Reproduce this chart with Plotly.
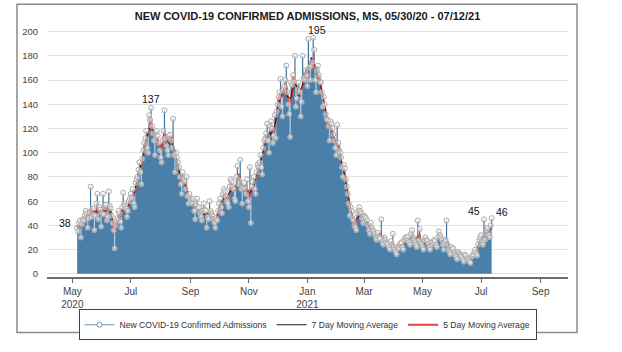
import pandas as pd
import plotly.graph_objects as go

# ---------------- data ----------------
start_date = "2020-05-06"
daily = [
    38, 35, 42, 44, 30, 41, 45,        # May 6
    44, 48, 52, 50, 38, 46, 51,        # May 13
    72, 47, 54, 49, 36, 48, 58,        # May 20
    66, 45, 55, 53, 39, 50, 66,        # May 27
    49, 55, 57, 44, 47, 68, 56,        # Jun 3
    54, 48, 42, 36, 21, 40, 44,        # Jun 10
    46, 52, 50, 43, 38, 55, 67,        # Jun 17
    58, 56, 54, 47, 52, 60, 62,        # Jun 24
    66, 63, 70, 58, 55, 75, 78,        # Jul 1
    80, 86, 92, 84, 74, 95, 102,       # Jul 8
    108, 112, 118, 104, 100, 131, 127, # Jul 15
    137, 122, 116, 110, 98, 113, 118,  # Jul 22
    114, 108, 102, 96, 92, 110, 118,   # Jul 29
    135, 112, 106, 102, 98, 114, 115,  # Aug 5
    110, 104, 128, 98, 84, 100, 96,    # Aug 12
    92, 88, 80, 74, 66, 84, 78,        # Aug 19
    76, 70, 80, 64, 58, 66, 62,        # Aug 26
    60, 58, 62, 52, 45, 56, 62,        # Sep 2
    54, 55, 50, 47, 44, 52, 58,        # Sep 9
    53, 52, 38, 47, 45, 60, 52,        # Sep 16
    50, 48, 45, 42, 38, 46, 44,        # Sep 23
    52, 58, 62, 55, 50, 66, 70,        # Sep 30
    68, 64, 60, 58, 55, 72, 78,        # Oct 7
    76, 72, 70, 62, 60, 80, 89,        # Oct 14
    74, 77, 94, 70, 58, 72, 75,        # Oct 21
    70, 66, 78, 60, 55, 88, 42,        # Oct 28
    72, 76, 80, 70, 66, 84, 90,        # Nov 4
    88, 92, 98, 88, 82, 104, 110,      # Nov 11
    112, 116, 124, 110, 100, 122, 126, # Nov 18
    120, 108, 114, 131, 112, 134, 140, # Nov 25
    146, 150, 161, 138, 130, 152, 155, # Dec 2
    160, 172, 150, 140, 132, 113, 158, # Dec 9
    156, 164, 159, 180, 138, 145, 152, # Dec 16
    158, 150, 130, 142, 180, 162, 160, # Dec 23
    168, 164, 155, 194, 170, 160, 172, # Dec 30
    175, 195, 185, 160, 150, 168, 172, # Jan 6
    164, 159, 158, 150, 138, 146, 140, # Jan 13
    132, 128, 127, 122, 110, 126, 124, # Jan 20
    120, 115, 110, 104, 98, 123, 108,  # Jan 27
    102, 100, 96, 88, 80, 90, 87,      # Feb 3
    78, 72, 66, 58, 48, 55, 52,        # Feb 10
    46, 44, 40, 38, 36, 50, 52,        # Feb 17
    55, 52, 50, 46, 42, 48, 47,        # Feb 24
    46, 44, 40, 36, 33, 42, 38,        # Mar 3
    36, 35, 33, 30, 28, 34, 31,        # Mar 10
    30, 29, 45, 26, 24, 30, 28,        # Mar 17
    26, 25, 24, 22, 20, 27, 24,        # Mar 24
    33, 22, 20, 18, 16, 22, 21,        # Mar 31
    24, 25, 26, 22, 20, 28, 30,        # Apr 7
    30, 28, 31, 26, 24, 33, 36,        # Apr 14
    30, 28, 26, 24, 22, 44, 28,        # Apr 21
    37, 26, 24, 22, 20, 28, 30,        # Apr 28
    28, 27, 25, 22, 20, 26, 24,        # May 5
    26, 28, 27, 24, 22, 30, 35,        # May 12
    32, 30, 28, 24, 20, 26, 28,        # May 19
    44, 24, 20, 18, 16, 22, 20,        # May 26
    21, 18, 16, 14, 12, 18, 17,        # Jun 2
    16, 15, 14, 12, 10, 16, 15,        # Jun 9
    13, 12, 11, 10, 9, 14, 15,         # Jun 16
    16, 18, 20, 17, 15, 24, 28,        # Jun 23
    30, 32, 26, 24, 45, 28, 33,        # Jun 30
    36, 38, 32, 30, 40, 46,            # Jul 7
]
labels = [("2020-05-06", "38"), ("2020-07-22", "137"), ("2021-01-07", "195"),
          ("2021-07-04", "45"), ("2021-07-12", "46")]
tick_vals = ["2020-05-01", "2020-07-01", "2020-09-01", "2020-11-01", "2021-01-01",
             "2021-03-01", "2021-05-01", "2021-07-01", "2021-09-01"]
tick_text = ["May<br>2020", "Jul", "Sep", "Nov", "Jan<br>2021", "Mar", "May", "Jul", "Sep"]

dates = pd.date_range(start_date, periods=len(daily), freq="D")
s = pd.Series(daily, index=dates, dtype=float)
avg7 = s.rolling(7, center=True, min_periods=1).mean()
avg5 = s.rolling(5, center=True, min_periods=1).mean()

# ---------------- styles ----------------
AREA = "#4a7fa9"
STEM_DARK = "#3f729c"
STEM_LIGHT = "#b9d0e3"
FONT = "Arial, Liberation Sans, sans-serif"

fig = go.Figure()

fig.add_trace(go.Scatter(x=dates, y=avg7, mode="lines", line=dict(width=0, color=AREA),
                         fill="tozeroy", fillcolor=AREA, showlegend=False, hoverinfo="skip"))

dx, dy, lx, ly = [], [], [], []
for d, v, a in zip(dates, s.values, avg7.values):
    if v >= a:
        dx += [d, d, None]; dy += [a, v, None]
    else:
        lx += [d, d, None]; ly += [a, v, None]
fig.add_trace(go.Scatter(x=dx, y=dy, mode="lines", line=dict(width=1.2, color=STEM_DARK),
                         showlegend=False, hoverinfo="skip"))
fig.add_trace(go.Scatter(x=lx, y=ly, mode="lines", line=dict(width=1.2, color=STEM_LIGHT),
                         showlegend=False, hoverinfo="skip"))

fig.add_trace(go.Scatter(x=[None], y=[None], mode="lines+markers", name="New COVID-19 Confirmed Admissions",
                         line=dict(color="#6a95ba", width=1.2), legendrank=1,
                         marker=dict(symbol="circle", size=5, color="white", line=dict(color="#6a95ba", width=1))))
fig.add_trace(go.Scatter(x=dates, y=avg5, mode="lines", name="5 Day Moving Average",
                         line=dict(color="#d9473f", width=2), legendrank=3))
fig.add_trace(go.Scatter(x=dates, y=avg7, mode="lines", name="7 Day Moving Average",
                         line=dict(color="#1a1a1a", width=1), legendrank=2))
fig.add_trace(go.Scatter(x=dates, y=s.values, mode="markers", showlegend=False,
                         marker=dict(symbol="circle", size=5, color="rgba(255,255,255,0.5)",
                                     line=dict(color="#a8a8a8", width=1))))

for d, t in labels:
    v = s[pd.Timestamp(d)]
    xs, ys = 0, 9
    if t == "38":
        xs, ys = -12, 5
    elif t == "45":
        xs, ys = -10, 8
    elif t == "46":
        xs, ys = 10, 6
    elif t == "195":
        xs, ys = 4, 8
    fig.add_annotation(x=pd.Timestamp(d), y=v, text=t, showarrow=False, xshift=xs, yshift=ys,
                       font=dict(family=FONT, size=10.5, color="#111"))

# outer frame
fig.add_shape(type="rect", xref="paper", yref="paper", x0=-0.0576, x1=1.0173, y0=-0.224, y1=1.10,
              line=dict(color="#8a8a8a", width=1.5), fillcolor="rgba(0,0,0,0)", layer="below")

fig.update_layout(
    width=622, height=352,
    margin=dict(l=47, r=54, t=29, b=66),
    paper_bgcolor="white", plot_bgcolor="white",
    font=dict(family=FONT, color="#444"),
    title=dict(text="<b>NEW COVID-19 CONFIRMED ADMISSIONS, MS, 05/30/20 - 07/12/21</b>",
               x=0.5, xref="paper", y=0.955, yanchor="middle",
               font=dict(family=FONT, size=11, color="#1a1a1a")),
    showlegend=True,
    legend=dict(orientation="h", x=0.5, xanchor="center", y=-0.13, yanchor="top",
                bordercolor="#444", borderwidth=1, bgcolor="white", traceorder="normal",
                font=dict(family=FONT, size=8.6, color="#333"), itemwidth=30,
                tracegroupgap=0),
)
fig.update_xaxes(type="date", range=["2020-04-04 14:00", "2021-09-29 14:00"],
                 tickvals=tick_vals, ticktext=tick_text, showgrid=False,
                 showline=True, linecolor="#6a6a6a", linewidth=1.5,
                 ticks="outside", ticklen=4, tickcolor="#6a6a6a",
                 tickfont=dict(family=FONT, size=10, color="#444"), zeroline=False)
fig.update_yaxes(range=[-2.6, 202.2], tickvals=list(range(0, 201, 20)),
                 showgrid=True, gridcolor="#e3e3e3", gridwidth=1, zeroline=False,
                 showline=False, ticks="outside", ticklen=6, tickcolor="rgba(0,0,0,0)",
                 tickfont=dict(family=FONT, size=9.5, color="#444"))

fig.write_html("out.html")
